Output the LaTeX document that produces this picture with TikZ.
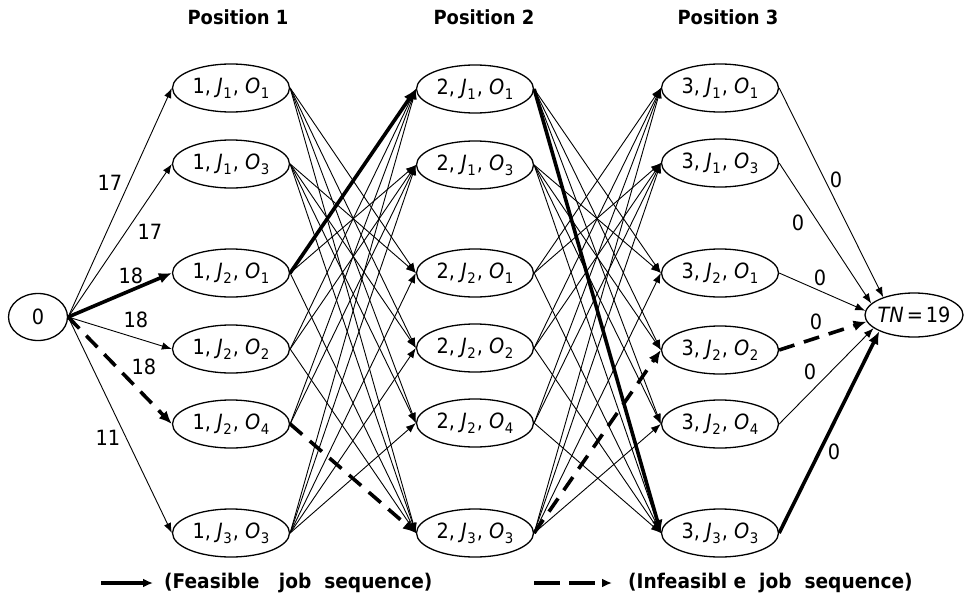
\documentclass[tikz,border=0pt]{standalone}
\usepackage{fontspec}
\setmainfont[FakeStretch=0.92]{DejaVu Sans}
\usetikzlibrary{shapes.geometric,arrows.meta}
\newcommand\subx[1]{\raisebox{-5pt}{\fontsize{14.5}{14.5}\selectfont #1}}
\newcommand\nlab[3]{#1, \textit{J}\kern0.5pt\subx{#2}\kern1pt, \textit{O}\kern0.5pt\subx{#3}}
\begin{document}
\begin{tikzpicture}[x=1pt,y=-1pt,
  st/.style={draw, ellipse, line width=1.3pt, minimum width=117pt, minimum height=48pt, inner sep=0pt, font=\fontsize{21}{24}\selectfont},
  endpt/.style={draw, ellipse, line width=1.3pt, inner sep=0pt, font=\fontsize{21}{24}\selectfont},
  thinedge/.style={line width=0.9pt, -{Latex[length=10pt,width=7.5pt]}},
  boldedge/.style={line width=3.6pt, -{Latex[length=13pt,width=11pt]}},
  dashedge/.style={line width=3.6pt, dash pattern=on 16pt off 10pt, -{Latex[length=13pt,width=11pt]}},
  wlab/.style={inner sep=0pt, font=\fontsize{21}{24}\selectfont},
  hdr/.style={inner sep=0pt, font=\fontsize{19.5}{22}\selectfont\bfseries},
  leg/.style={inner sep=0pt, anchor=west, font=\fontsize{20.2}{24}\selectfont\bfseries}]
\useasboundingbox (0,0) rectangle (965,607);

% headers
\node[hdr] (h1) at (238,17) {Position 1};
\node[hdr] (h2) at (484,17) {Position 2};
\node[hdr] (h3) at (728,17) {Position 3};

% start / end
\node[endpt, minimum width=59pt, minimum height=47pt] (s) at (38,317) {0};
\node[endpt, minimum width=98pt, minimum height=44pt, inner xsep=-6pt] (tn) at (914,315) {\textit{TN}\kern3pt=\kern3pt19};

% columns
\node[st] (a1) at (231,88)  {\nlab{1}{1}{1}};
\node[st] (a2) at (231,164) {\nlab{1}{1}{3}};
\node[st] (a3) at (231,273) {\nlab{1}{2}{1}};
\node[st] (a4) at (231,349) {\nlab{1}{2}{2}};
\node[st] (a5) at (231,424) {\nlab{1}{2}{4}};
\node[st] (a6) at (231,533) {\nlab{1}{3}{3}};

\node[st] (b1) at (475,89)  {\nlab{2}{1}{1}};
\node[st] (b2) at (475,165) {\nlab{2}{1}{3}};
\node[st] (b3) at (475,273) {\nlab{2}{2}{1}};
\node[st] (b4) at (475,348) {\nlab{2}{2}{2}};
\node[st] (b5) at (475,423) {\nlab{2}{2}{4}};
\node[st] (b6) at (475,533) {\nlab{2}{3}{3}};

\node[st] (c1) at (720,88)  {\nlab{3}{1}{1}};
\node[st] (c2) at (720,163) {\nlab{3}{1}{3}};
\node[st] (c3) at (720,273) {\nlab{3}{2}{1}};
\node[st] (c4) at (720,350) {\nlab{3}{2}{2}};
\node[st] (c5) at (720,424) {\nlab{3}{2}{4}};
\node[st] (c6) at (720,533) {\nlab{3}{3}{3}};

% start edges
\draw[thinedge] (s.east) -- (a1.west);
\draw[thinedge] (s.east) -- (a2.west);
\draw[boldedge] (s.east) -- (a3.west);
\draw[thinedge] (s.east) -- (a4.west);
\draw[dashedge] (s.east) -- (a5.west);
\draw[thinedge] (s.east) -- (a6.west);

% transitions between positions (different jobs only)
\foreach \i/\ji in {1/1,2/1,3/2,4/2,5/2,6/3}{
  \foreach \k/\jk in {1/1,2/1,3/2,4/2,5/2,6/3}{
    \ifnum\ji=\jk\relax\else
      \ifnum\i\k=31\relax\else\ifnum\i\k=56\relax\else
        \draw[thinedge] (a\i.east) -- (b\k.west);
      \fi\fi
      \ifnum\i\k=16\relax\else\ifnum\i\k=64\relax\else
        \draw[thinedge] (b\i.east) -- (c\k.west);
      \fi\fi
    \fi
  }
}
\draw[boldedge] (a3.east) -- (b1.west);
\draw[dashedge] (a5.east) -- (b6.west);
\draw[boldedge] (b1.east) -- (c6.west);
\draw[dashedge] (b6.east) -- (c4.west);

% end edges
\draw[thinedge] (c1.east) -- (tn.150);
\draw[thinedge] (c2.east) -- (tn.165);
\draw[thinedge] (c3.east) -- (tn.175);
\draw[dashedge] (c4.east) -- (tn.188);
\draw[thinedge] (c5.east) -- (tn.198);
\draw[boldedge] (c6.east) -- (tn.205);

% weights
\node[wlab] (w1) at (110,183) {17};
\node[wlab] (w2) at (150,232) {17};
\node[wlab] (w3) at (131,276) {18};
\node[wlab] (w4) at (136,320) {18};
\node[wlab] (w5) at (144,367) {18};
\node[wlab] (w6) at (108,438) {11};
\node[wlab] (z1) at (836,180) {0};
\node[wlab] (z2) at (798,223) {0};
\node[wlab] (z3) at (820,278) {0};
\node[wlab] (z4) at (816,322) {0};
\node[wlab] (z5) at (810,372) {0};
\node[wlab] (z6) at (834,452) {0};

% legend
\coordinate (l1s) at (101,583);
\coordinate (l1e) at (153,583);
\draw[line width=3.4pt, -{Latex[length=10pt,width=9pt]}] (l1s) -- (l1e);
\node[leg] (t1) at (164,583) {(Feasible\ \ \ job\ \ sequence)};
\coordinate (l2s) at (534,583);
\coordinate (l2e) at (612,583);
\draw[line width=3.4pt, dash pattern=on 26pt off 9pt, -{Latex[length=10pt,width=9pt]}] (l2s) -- (l2e);
\node[leg] (t2) at (628,583) {(Infeasibl e\ \ job\ \ sequence)};
\end{tikzpicture}
\end{document}
